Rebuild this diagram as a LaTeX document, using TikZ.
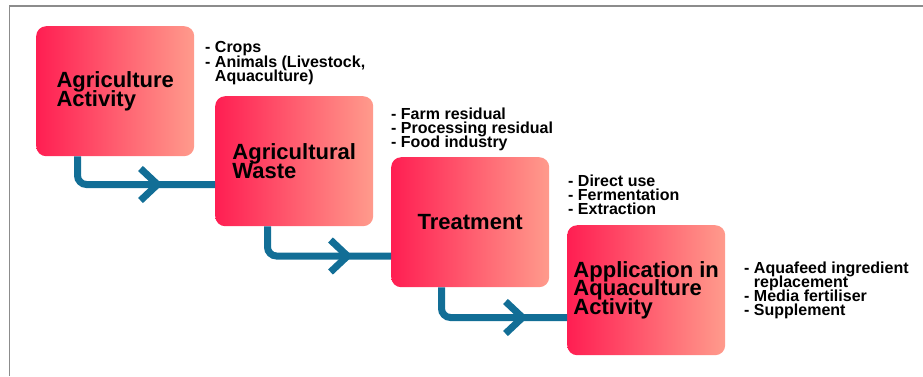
\documentclass[tikz,border=0pt]{standalone}
\usepackage{fontspec}
\setmainfont{Liberation Sans}
\usetikzlibrary{calc}
\definecolor{boxleft}{RGB}{255,30,82}
\definecolor{boxright}{RGB}{255,155,140}
\definecolor{flowblue}{RGB}{18,110,150}
\definecolor{framegray}{RGB}{140,140,140}
\newcommand\mytightlines{\setlength{\lineskiplimit}{-30pt}}
\newcommand\mytitlefont{\fontsize{22}{18.5}\selectfont\bfseries\mytightlines}
\newcommand\mynotefont{\fontsize{16}{14.2}\selectfont\bfseries\mytightlines}
\tikzset{
  stagebox/.style={rectangle, rounded corners=10pt, left color=boxleft, right color=boxright,
    draw=none, minimum width=158pt, minimum height=130pt, anchor=north west, inner sep=0pt,
    align=left, font=\mytitlefont},
  notes/.style={anchor=north west, inner sep=0pt, align=left, font=\mynotefont},
  flow/.style={draw=flowblue, line width=7pt, rounded corners=9pt},
  chev/.style={draw=flowblue, line width=7pt, miter limit=10},
  frameline/.style={draw=framegray, line width=1.8pt}
}
\begin{document}
\begin{tikzpicture}[x=1pt,y=-1pt]
\useasboundingbox (0,0) rectangle (923,376);
\draw[frameline] (9.5,376) -- (9.5,6) -- (923,6);

\node[stagebox] (b1) at (36,26) {Agriculture\\Activity};
\node[stagebox] (b2) at (215,96) {Agricultural\\Waste};
\node[stagebox] (b3) at (391,157) {Treatment};
\node[stagebox] (b4) at (567,225) {Application in\\Aquaculture\\Activity};

\node[notes] (n1) at (205,41.5) {- Crops\\- Animals (Livestock,\\\hphantom{- }Aquaculture)};
\node[notes] (n2) at (391,107.5) {- Farm residual\\- Processing residual\\- Food industry};
\node[notes] (n3) at (568,174.5) {- Direct use\\- Fermentation\\- Extraction};
\node[notes] (n4) at (744,261.5) {- Aquafeed ingredient\\\hphantom{- }replacement\\- Media fertiliser\\- Supplement};

\coordinate (k1) at (77.5,184.5);
\coordinate (k2) at (267.5,256);
\coordinate (k3) at (441.5,317.5);

\draw[flow] (b1.south -| k1) |- (b2.west |- k1);
\draw[flow] (b2.south -| k2) |- (b3.west |- k2);
\draw[flow] (b3.south -| k3) |- (b4.west |- k3);

\draw[chev] ($(k1)+(63,-16)$) -- ($(k1)+(80,0)$) -- ($(k1)+(63,16)$);
\draw[chev] ($(k2)+(63,-16)$) -- ($(k2)+(80,0)$) -- ($(k2)+(63,16)$);
\draw[chev] ($(k3)+(64,-16)$) -- ($(k3)+(81,0)$) -- ($(k3)+(64,16)$);
\end{tikzpicture}
\end{document}
